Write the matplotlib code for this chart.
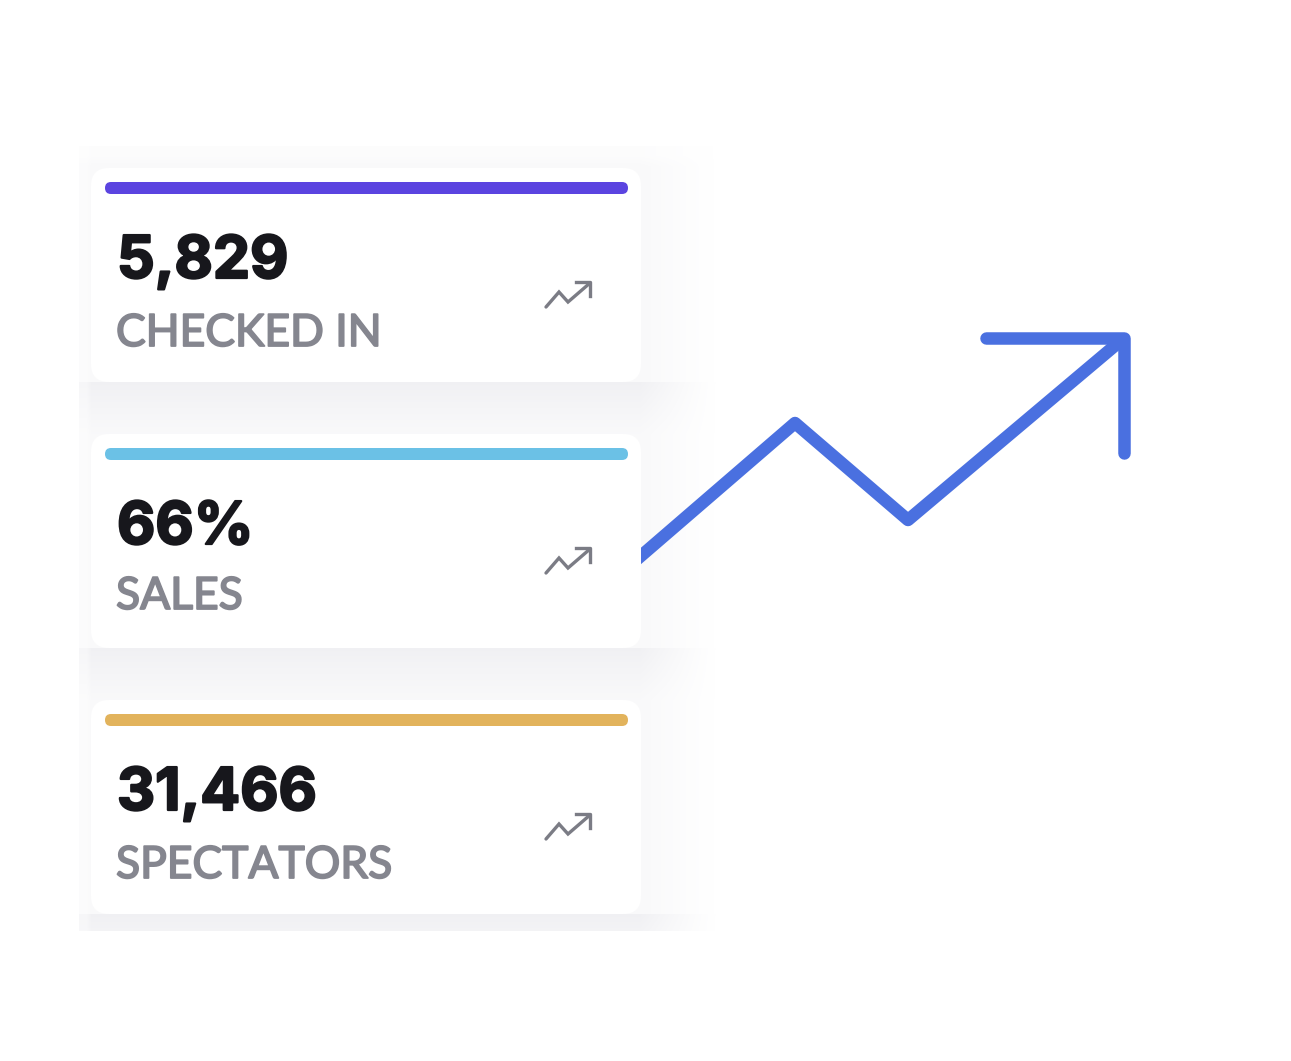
import matplotlib
matplotlib.use("Agg")
import matplotlib.pyplot as plt
import matplotlib.patheffects as pe
from matplotlib.patches import FancyBboxPatch
import numpy as np

W, H = 1291, 1061
values = ["5,829", "66%", "31,466"]
labels = ["CHECKED IN", "SALES", "SPECTATORS"]
colors = ["#5B44E0", "#6BC1E6", "#E2B35C"]
tops = [168, 434, 700]
label_shift = [0, -3, 0]
arrow_x = [620, 795, 908, 1124]
arrow_y = [574, 423, 520, 338]

fig = plt.figure(figsize=(W/100, H/100), dpi=100)
ax = fig.add_axes([0, 0, 1, 1])
ax.set_xlim(0, W); ax.set_ylim(H, 0); ax.axis("off")

# soft backdrop: hard left/top/bottom edges, fading to the right, darker under cards
yy, xx = np.mgrid[0:H, 0:W]
strength = np.zeros((H, W))
inside = (xx >= 79) & (yy >= 146) & (yy < 931)
strength[inside] = 0.3
for t in tops:
    below = (yy >= t + 214) & (yy < t + 266) & inside
    strength[below] += 0.42 * (1 - (yy[below] - (t + 214)) / 52.0) ** 1.1
fade = np.clip((716 - xx) / 76.0, 0, 1) ** 1.2
strength *= fade
top_fade = np.clip((yy - 146) / 20.0, 0.45, 1)
left_fade = np.clip((xx - 79) / 12.0, 0.6, 1)
strength *= top_fade * left_fade
rgba = np.ones((H, W, 4))
rgba[..., :3] = np.array([0.925, 0.925, 0.94])
rgba[..., 3] = np.clip(strength, 0, 1)
ax.imshow(rgba, extent=(0, W, H, 0), aspect="auto", zorder=1, interpolation="bilinear")
ax.set_xlim(0, W); ax.set_ylim(H, 0)

ax.plot(arrow_x, arrow_y, color="#4A70E0", lw=9, solid_joinstyle="round", solid_capstyle="butt", zorder=2)
ax.plot([986, 1124, 1124], [338, 338, 453], color="#4A70E0", lw=9, solid_joinstyle="round", solid_capstyle="round", zorder=2)

for v, l, c, t, s in zip(values, labels, colors, tops, label_shift):
    ax.add_patch(FancyBboxPatch((91, t), 550, 214, boxstyle="round,pad=0,rounding_size=18",
                                fc="white", ec="none", zorder=4))
    ax.add_patch(FancyBboxPatch((105, t+14), 523, 12, boxstyle="round,pad=0,rounding_size=6",
                                fc=c, ec="none", zorder=5))
    ax.text(117, t+110, v, fontsize=42.5, fontweight="bold", family="Inter", color="#17171c",
            va="baseline", ha="left", zorder=6,
            path_effects=[pe.withStroke(linewidth=1.6, foreground="#17171c")])
    ax.text(116, t+178+s, l, fontsize=32, family="Lato", color="#85868f",
            va="baseline", ha="left", zorder=6,
            path_effects=[pe.withStroke(linewidth=1.3, foreground="#85868f")])
    ix = np.array([546, 559, 568, 590])
    iy = np.array([307, 292, 302, 283]) - 168 + t
    ax.plot(ix, iy, color="#7b7c85", lw=2.4, zorder=6, solid_joinstyle="miter", solid_capstyle="round")
    ax.plot([576, 590, 590], [282-168+t, 282-168+t, 296-168+t], color="#7b7c85", lw=2.4, zorder=6)

fig.savefig("out.png", dpi=100, facecolor="white")
